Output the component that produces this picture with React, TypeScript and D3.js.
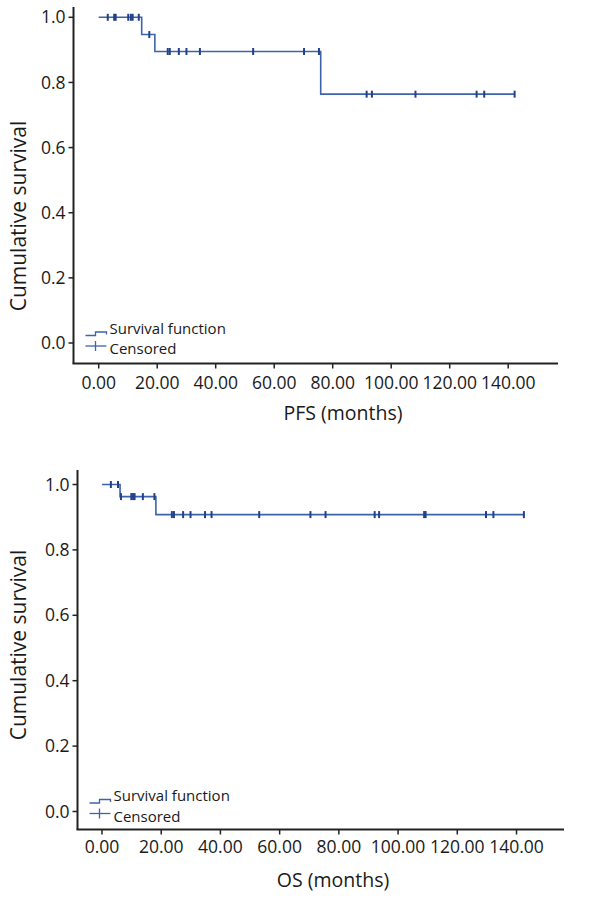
import React from "react";
import * as d3 from "d3";

// ---------- data ----------
const xTicks = [0, 20, 40, 60, 80, 100, 120, 140];
const yTicks = [0, 0.2, 0.4, 0.6, 0.8, 1.0];

// PFS: step times and survival after each step
const pfsStepTimes = [0, 14.7, 19.2, 75.9];
const pfsStepSurv = [1.0, 0.947, 0.895, 0.764];
const pfsEnd = 142.2;
const pfsCensored = [3.1, 5.3, 5.8, 10.1, 11.0, 11.6, 13.7, 17.3, 23.6, 24.3, 27.4, 30.0, 34.6, 52.8, 70.2, 75.3, 91.6, 93.4, 108.3, 129.2, 131.8, 142.2];

// OS
const osStepTimes = [0, 6.1, 18.2];
const osStepSurv = [1.0, 0.963, 0.908];
const osEnd = 142.5;
const osCensored = [3.0, 5.4, 6.4, 9.9, 10.5, 11.0, 13.8, 17.7, 23.6, 24.3, 27.4, 29.9, 34.8, 37.0, 53.1, 70.4, 75.5, 92.1, 93.6, 108.8, 109.3, 129.7, 132.2, 142.5];

const xTitles = ["PFS (months)", "OS (months)"];
const yTitle = "Cumulative survival";
const legendLabels = ["Survival function", "Censored"];

// ---------- layout ----------
const FONT = "'Open Sans', 'Noto Sans', sans-serif";
const LINE = "#3c64aa";
const MARK = "#23418a";
const AXIS = "#222";

type Layout = {
  x0: number; x140: number; yTop: number; yBottom: number;
  axisX: number; axisY: number; axisTop: number; axisRight: number;
  xTitleX: number; xTitleY: number; yTitleCY: number; tickLabelY: number;
  legSurvY: number; legCensY: number;
};

const layouts: Layout[] = [
  { x0: 98.7, x140: 508.2, yTop: 17.3, yBottom: 343, axisX: 73.5, axisY: 363.5, axisTop: 7, axisRight: 558,
    xTitleX: 343, xTitleY: 413, yTitleCY: 216, tickLabelY: 383, legSurvY: 328.5, legCensY: 349 },
  { x0: 102, x140: 516.5, yTop: 484.5, yBottom: 811.5, axisX: 77.5, axisY: 829.5, axisTop: 470, axisRight: 564,
    xTitleX: 333, xTitleY: 880, yTitleCY: 645, tickLabelY: 847, legSurvY: 796, legCensY: 816.5 },
];

function survAt(t: number, times: number[], surv: number[]) {
  let s = surv[0];
  for (let i = 0; i < times.length; i++) if (times[i] <= t) s = surv[i];
  return s;
}

function KMChart({ L, times, surv, end, censored, xTitle }: {
  L: Layout; times: number[]; surv: number[]; end: number; censored: number[]; xTitle: string;
}) {
  const x = d3.scaleLinear().domain([0, 140]).range([L.x0, L.x140]);
  const y = d3.scaleLinear().domain([0, 1]).range([L.yBottom, L.yTop]);
  const pts: [number, number][] = times.map((t, i) => [t, surv[i]]);
  pts.push([end, surv[surv.length - 1]]);
  const line = d3.line<[number, number]>().x(d => x(d[0])).y(d => y(d[1])).curve(d3.curveStepAfter);
  const legX = L.axisX + 12;
  const survIconLow = L.legSurvY + 7;
  const survIconHigh = L.legSurvY + 3.5;
  const censIcon = L.legCensY - 3;
  return (
    <g>
      {/* axes */}
      <line x1={L.axisX} x2={L.axisX} y1={L.axisTop} y2={L.axisY} stroke={AXIS} strokeWidth={2} />
      <line x1={L.axisX - 1} x2={L.axisRight} y1={L.axisY} y2={L.axisY} stroke={AXIS} strokeWidth={2} />
      {yTicks.map(v => (
        <g key={"y" + v}>
          <line x1={L.axisX - 5} x2={L.axisX} y1={y(v)} y2={y(v)} stroke={AXIS} strokeWidth={1.5} />
          <text x={L.axisX - 8} y={y(v)} dy="0.35em" textAnchor="end" fontSize={17.5} fontFamily={FONT} fill="#1a1a1a">
            {v.toFixed(1)}
          </text>
        </g>
      ))}
      {xTicks.map(v => (
        <g key={"x" + v}>
          <line x1={x(v)} x2={x(v)} y1={L.axisY} y2={L.axisY + 5} stroke={AXIS} strokeWidth={1.5} />
          <text x={x(v)} y={L.tickLabelY} dy="0.35em" textAnchor="middle" fontSize={17.5} fontFamily={FONT} fill="#1a1a1a">
            {v.toFixed(2)}
          </text>
        </g>
      ))}
      <text x={L.xTitleX} y={L.xTitleY} dy="0.35em" textAnchor="middle" fontSize={19.5} fontFamily={FONT} fill="#1a1a1a">
        {xTitle}
      </text>
      <text transform={`translate(${19},${L.yTitleCY}) rotate(-90)`} dy="0.35em" textAnchor="middle" fontSize={21} fontFamily={FONT} fill="#1a1a1a">
        {yTitle}
      </text>
      {/* curve */}
      <path d={line(pts) ?? ""} fill="none" stroke={LINE} strokeWidth={1.6} />
      {censored.map((t, i) => {
        const s = survAt(t, times, surv);
        return <line key={i} x1={x(t)} x2={x(t)} y1={y(s) - 3.5} y2={y(s) + 3.5} stroke={MARK} strokeWidth={2} />;
      })}
      {/* legend */}
      <path d={`M${legX},${survIconLow} H${legX + 10} V${survIconHigh} H${legX + 21} V${survIconHigh + 2.5}`} fill="none" stroke={LINE} strokeWidth={1.3} />
      <text x={legX + 24} y={L.legSurvY} dy="0.35em" fontSize={15} fontFamily={FONT} fill="#1a1a1a">{legendLabels[0]}</text>
      <line x1={legX} x2={legX + 21} y1={censIcon} y2={censIcon} stroke={LINE} strokeWidth={1.3} />
      <line x1={legX + 10} x2={legX + 10} y1={censIcon - 5} y2={censIcon + 5} stroke={LINE} strokeWidth={1.3} />
      <text x={legX + 24} y={L.legCensY} dy="0.35em" fontSize={15} fontFamily={FONT} fill="#1a1a1a">{legendLabels[1]}</text>
    </g>
  );
}

export default function App() {
  return (
    <svg width={590} height={910} style={{ position: "absolute", left: 0, top: 0, background: "#fff" }}>
      <rect width={590} height={910} fill="#fff" />
      <KMChart L={layouts[0]} times={pfsStepTimes} surv={pfsStepSurv} end={pfsEnd} censored={pfsCensored} xTitle={xTitles[0]} />
      <KMChart L={layouts[1]} times={osStepTimes} surv={osStepSurv} end={osEnd} censored={osCensored} xTitle={xTitles[1]} />
    </svg>
  );
}
